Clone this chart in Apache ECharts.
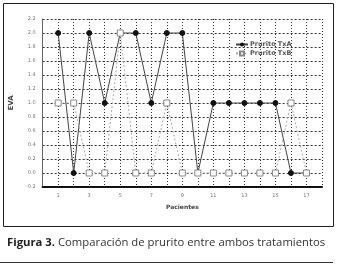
<!DOCTYPE html>
<html><head><meta charset="utf-8">
<script src="https://cdn.jsdelivr.net/npm/echarts@6/dist/echarts.min.js"></script>
<style>html,body{margin:0;padding:0;background:#fff}#c{width:340px;height:268px}</style>
</head><body><div id="c"></div>
<script>
var patients = [1,2,3,4,5,6,7,8,9,10,11,12,13,14,15,16,17];
var pruritoTxA = [2,0,2,1,2,2,1,2,2,0,1,1,1,1,1,0,0];
var pruritoTxB = [1,1,0,0,2,0,0,1,0,0,0,0,0,0,0,1,0];
var yTicks = [-0.2,0,0.2,0.4,0.6,0.8,1,1.2,1.4,1.6,1.8,2,2.2];
var xTickLabels = [1,3,5,7,9,11,13,15,17];

var chart = echarts.init(document.getElementById('c'), null, {renderer:'canvas'});
function pairs(v){ return patients.map(function(p,i){ return [p, v[i]]; }); }
chart.setOption({
  animation:false,
  backgroundColor:'#fff',
  title:{
    text:'{b|Figura 3.} Comparación de prurito entre ambos tratamientos',
    left:2, top:232,
    textStyle:{fontFamily:'Open Sans', fontSize:11.3, color:'#333', fontWeight:'normal',
      rich:{b:{fontFamily:'Open Sans', fontSize:11.3, fontWeight:'bold', color:'#222'}}}
  },
  graphic:[
    {type:'rect', shape:{x:3.5,y:3.5,width:330,height:223}, style:{fill:'none', stroke:'#222', lineWidth:1}, z:-1},
    {type:'line', shape:{x1:0,y1:262.5,x2:333,y2:262.5}, style:{stroke:'#333', lineWidth:1}}
  ],
  legend:{
    left:230, top:36, orient:'vertical', itemGap:2, itemWidth:12, itemHeight:5,
    textStyle:{fontFamily:'DejaVu Sans', fontSize:6.5, color:'#555', fontWeight:'bold', padding:[0,0,0,-3]},
    data:['Prurito TxA','Prurito TxB']
  },
  grid:{left:40, right:18, top:19, bottom:81},
  xAxis:{
    type:'value', min:0, max:18, interval:1,
    name:'Pacientes', nameLocation:'middle', nameGap:17,
    nameTextStyle:{fontFamily:'DejaVu Sans', fontSize:6, fontWeight:'bold', color:'#444'},
    axisLine:{onZero:false, lineStyle:{color:'#111', width:2}},
    axisTick:{show:false},
    axisLabel:{fontFamily:'DejaVu Sans', fontSize:5, color:'#777', margin:6,
      formatter:function(v){ return xTickLabels.indexOf(v) >= 0 ? String(v) : ''; }},
    splitLine:{show:true, lineStyle:{color:'#333', type:[1,2], width:1}}
  },
  yAxis:{
    type:'value', min:yTicks[0], max:yTicks[yTicks.length-1], interval:0.2,
    name:'EVA', nameLocation:'middle', nameGap:24, nameRotate:90,
    nameTextStyle:{fontFamily:'DejaVu Sans', fontSize:7, fontWeight:'bold', color:'#444'},
    axisLine:{show:true, onZero:false, lineStyle:{color:'#666', width:1}},
    axisTick:{show:false},
    axisLabel:{fontFamily:'DejaVu Sans', fontSize:5, color:'#777', margin:7,
      formatter:function(v){ return (Math.round(v*10)/10).toFixed(1); }},
    splitLine:{show:true, lineStyle:{color:'#333', type:[2,2], width:1}}
  },
  series:[
    {name:'Prurito TxA', type:'line', data:pairs(pruritoTxA), symbol:'circle', symbolSize:5,
      lineStyle:{color:'#444', width:1}, itemStyle:{color:'#111', borderColor:'#111'}, z:2},
    {name:'Prurito TxB', type:'line', data:pairs(pruritoTxB), symbol:'rect', symbolSize:6,
      lineStyle:{color:'#aaa', width:1, type:[2,2]}, itemStyle:{color:'#fff', borderColor:'#888', borderWidth:1}, z:3}
  ]
});
</script></body></html>
